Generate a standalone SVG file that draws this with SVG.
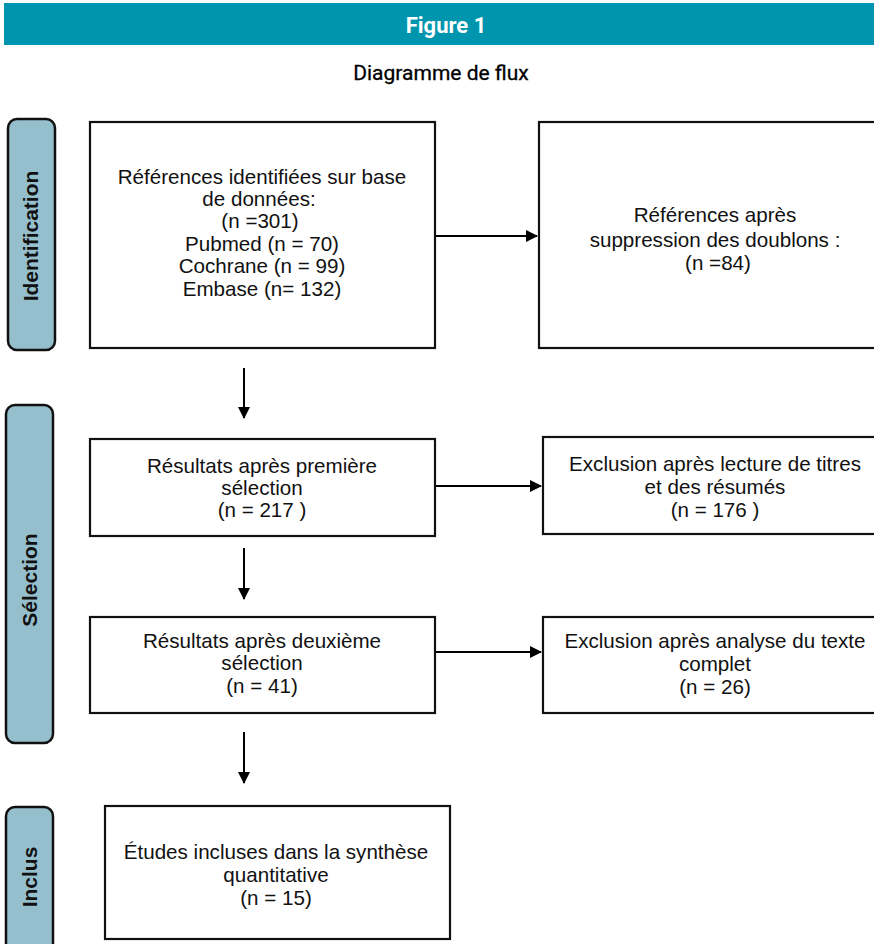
<svg xmlns="http://www.w3.org/2000/svg" width="874" height="944" viewBox="0 0 874 944">
<style>
.box{fill:#fff;stroke:#111;stroke-width:2.2}
.lab{fill:#95bfcc;stroke:#111;stroke-width:2.5}
.t{font-family:"Liberation Sans",Arial,sans-serif;font-size:20.6px;fill:#111;text-anchor:middle}
.lt{font-family:"Liberation Sans",Arial,sans-serif;font-size:21px;font-weight:bold;fill:#111;text-anchor:middle}
.con line{stroke:#000;stroke-width:2}
</style>
<defs>
<marker id="ah" markerWidth="12" markerHeight="12" refX="11" refY="6" orient="auto" markerUnits="userSpaceOnUse">
<path d="M0,0 L12,6 L0,12 Z" fill="#000"/>
</marker>
</defs>
<rect x="4" y="3" width="870" height="42" fill="#0095ae"/>
<text x="446" y="33" font-family="Roboto,'Open Sans',sans-serif" font-size="22" font-weight="bold" fill="#fff" text-anchor="middle">Figure 1</text>
<text x="441" y="80" font-family="Roboto,'Open Sans',sans-serif" font-size="21" font-weight="normal" fill="#000" stroke="#000" stroke-width="0.3" text-anchor="middle">Diagramme de flux</text>

<g id="lab-identification">
<rect class="lab" x="8" y="119" width="47" height="231" rx="9"/>
<text class="lt" transform="translate(38,236) rotate(-90)">Identification</text>
</g>
<g id="lab-selection">
<rect class="lab" x="6" y="405" width="47" height="338" rx="9"/>
<text class="lt" transform="translate(37,580) rotate(-90)">Sélection</text>
</g>
<g id="lab-inclus">
<rect class="lab" x="6" y="807" width="47" height="150" rx="9"/>
<text class="lt" transform="translate(37,877) rotate(-90)">Inclus</text>
</g>

<g id="n1">
<rect class="box" x="90" y="122" width="345" height="226"/>
<text class="t" x="262" y="184">Références identifiées sur base</text>
<text class="t" x="259" y="206">de données:</text>
<text class="t" x="260" y="228">(n =301)</text>
<text class="t" x="262" y="251">Pubmed (n = 70)</text>
<text class="t" x="262" y="273">Cochrane (n = 99)</text>
<text class="t" x="262" y="296">Embase (n= 132)</text>
</g>
<g id="n2">
<rect class="box" x="539" y="122" width="345" height="226"/>
<text class="t" x="715" y="222">Références après</text>
<text class="t" x="715" y="247">suppression des doublons :</text>
<text class="t" x="718" y="270">(n =84)</text>
</g>
<g id="n3">
<rect class="box" x="90" y="439" width="345" height="97"/>
<text class="t" x="262" y="473">Résultats après première</text>
<text class="t" x="262" y="495">sélection</text>
<text class="t" x="262" y="517">(n = 217 )</text>
</g>
<g id="n4">
<rect class="box" x="543" y="437" width="345" height="97"/>
<text class="t" x="715" y="471">Exclusion après lecture de titres</text>
<text class="t" x="715" y="494">et des résumés</text>
<text class="t" x="715" y="517">(n = 176 )</text>
</g>
<g id="n5">
<rect class="box" x="90" y="617" width="345" height="96"/>
<text class="t" x="262" y="648">Résultats après deuxième</text>
<text class="t" x="262" y="670">sélection</text>
<text class="t" x="262" y="693">(n = 41)</text>
</g>
<g id="n6">
<rect class="box" x="543" y="617" width="345" height="96"/>
<text class="t" x="715" y="648">Exclusion après analyse du texte</text>
<text class="t" x="715" y="671">complet</text>
<text class="t" x="715" y="694">(n = 26)</text>
</g>
<g id="n7">
<rect class="box" x="105" y="806" width="345" height="133"/>
<text class="t" x="276" y="859">Études incluses dans la synthèse</text>
<text class="t" x="276" y="882">quantitative</text>
<text class="t" x="276" y="905">(n = 15)</text>
</g>

<g class="con">
<line x1="436" y1="236" x2="537" y2="236" marker-end="url(#ah)"/>
<line x1="436" y1="486" x2="541" y2="486" marker-end="url(#ah)"/>
<line x1="436" y1="652" x2="541" y2="652" marker-end="url(#ah)"/>
<line x1="244" y1="368" x2="244" y2="418" marker-end="url(#ah)"/>
<line x1="244" y1="548" x2="244" y2="599" marker-end="url(#ah)"/>
<line x1="244" y1="732" x2="244" y2="783" marker-end="url(#ah)"/>
</g>
</svg>
